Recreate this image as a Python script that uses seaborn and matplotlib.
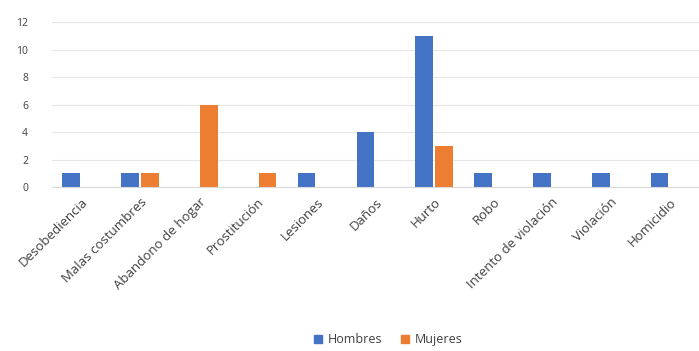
import matplotlib
matplotlib.use("Agg")
import matplotlib.pyplot as plt
import pandas as pd
import seaborn as sns

# Data
categorias = ["Desobediencia", "Malas costumbres", "Abandono de hogar", "Prostitución",
              "Lesiones", "Daños", "Hurto", "Robo", "Intento de violación",
              "Violación", "Homicidio"]
hombres = [1, 1, 0, 0, 1, 4, 11, 1, 1, 1, 1]
mujeres = [0, 1, 6, 1, 0, 0, 3, 0, 0, 0, 0]

df = pd.DataFrame({"Categoría": categorias, "Hombres": hombres, "Mujeres": mujeres})
df = df.melt(id_vars="Categoría", var_name="Sexo", value_name="Casos")

sns.set_style("white")
plt.rcParams["font.family"] = ["Open Sans", "DejaVu Sans"]

fig, ax = plt.subplots(figsize=(6.99, 3.51), dpi=100)
fig.subplots_adjust(left=0.074, right=1.0, top=0.937, bottom=0.467)

sns.barplot(data=df, x="Categoría", y="Casos", hue="Sexo",
            palette={"Hombres": "#4472C4", "Mujeres": "#ED7D31"}, saturation=1,
            width=0.68, gap=0.12, linewidth=0, ax=ax, legend=False)

ax.set_ylim(0, 12)
ax.set_yticks(range(0, 13, 2))
ax.yaxis.grid(True, color="#e6e6e6", linewidth=0.8)
ax.set_axisbelow(True)
for s in ["top", "right", "left"]:
    ax.spines[s].set_visible(False)
ax.spines["bottom"].set_color("#d9d9d9")
ax.set_xlabel("")
ax.set_ylabel("")
ax.tick_params(axis="y", labelsize=7.5, colors="#404040", length=0, pad=17)
ax.tick_params(axis="x", labelsize=9.5, colors="#404040", length=0, pad=6)
plt.setp(ax.get_xticklabels(), rotation=45, ha="right", rotation_mode="anchor")

handles = [plt.Rectangle((0, 0), 1, 1, color="#4472C4"),
           plt.Rectangle((0, 0), 1, 1, color="#ED7D31")]
fig.legend(handles, ["Hombres", "Mujeres"], loc="center", bbox_to_anchor=(0.555, 0.032),
           ncol=2, frameon=False, fontsize=9, handlelength=0.7, handleheight=0.7,
           columnspacing=1.5, handletextpad=0.4, labelcolor="#404040")

fig.savefig("out.png", dpi=100)
